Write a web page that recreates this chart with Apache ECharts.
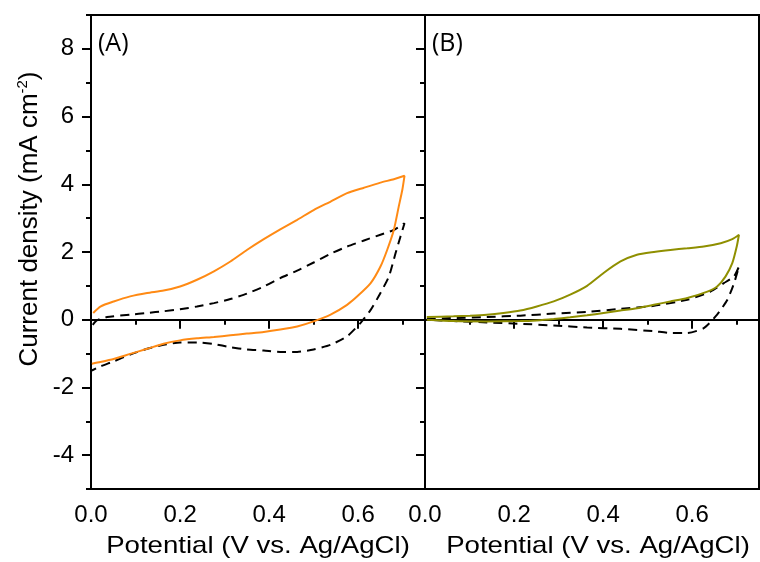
<!DOCTYPE html>
<html>
<head>
<meta charset="utf-8">
<title>CV curves</title>
<script src="https://cdn.jsdelivr.net/npm/echarts@6.0.0/dist/echarts.min.js"></script>
<style>
body { margin: 0; background: #fff; }
#main { width: 760px; height: 562px; }
</style>
</head>
<body>
<div id="main"></div>
<script type="text/javascript">
	// (A) orange curve, forward scan then reverse scan
	var aOrangeV = [0.005, 0.021, 0.051, 0.088, 0.126, 0.163, 0.2, 0.238, 0.276, 0.313, 0.35, 0.388, 0.425, 0.463, 0.5, 0.538, 0.575, 0.613, 0.65, 0.68, 0.704,
		0.699, 0.691, 0.68, 0.665, 0.65, 0.628, 0.598, 0.575, 0.538, 0.5, 0.463, 0.425, 0.388, 0.35, 0.313, 0.276, 0.238, 0.2, 0.163, 0.126, 0.088, 0.051, 0.021, 0.002];
	var aOrangeJ = [0.2, 0.39, 0.54, 0.69, 0.79, 0.86, 0.98, 1.18, 1.43, 1.72, 2.06, 2.38, 2.67, 2.95, 3.24, 3.49, 3.74, 3.90, 4.05, 4.15, 4.25,
		3.83, 3.34, 2.65, 2.06, 1.57, 1.08, 0.69, 0.44, 0.15, -0.05, -0.2, -0.29, -0.36, -0.41, -0.46, -0.51, -0.55, -0.61, -0.71, -0.86, -1.01, -1.16, -1.25, -1.30];

	// (A) dashed reference curve
	var aDashV = [0.004, 0.013, 0.036, 0.088, 0.126, 0.163, 0.2, 0.238, 0.276, 0.313, 0.35, 0.388, 0.425, 0.463, 0.5, 0.538, 0.575, 0.613, 0.65, 0.68, 0.704,
		0.695, 0.684, 0.669, 0.65, 0.628, 0.605, 0.575, 0.538, 0.5, 0.463, 0.425, 0.388, 0.35, 0.313, 0.276, 0.238, 0.2, 0.163, 0.126, 0.088, 0.051, 0.021, 0.002];
	var aDashJ = [-0.15, -0.02, 0.08, 0.15, 0.2, 0.25, 0.31, 0.39, 0.49, 0.61, 0.77, 0.98, 1.23, 1.45, 1.69, 1.95, 2.16, 2.34, 2.51, 2.65, 2.85,
		2.46, 1.97, 1.28, 0.79, 0.29, -0.1, -0.49, -0.74, -0.88, -0.95, -0.95, -0.91, -0.88, -0.81, -0.72, -0.67, -0.67, -0.74, -0.86, -1.03, -1.23, -1.38, -1.50];

	// (B) olive curve
	var bOliveV = [0.004, 0.064, 0.101, 0.139, 0.176, 0.214, 0.251, 0.289, 0.326, 0.364, 0.401, 0.439, 0.476, 0.514, 0.551, 0.589, 0.626, 0.664, 0.69, 0.705,
		0.7, 0.69, 0.675, 0.656, 0.634, 0.589, 0.551, 0.514, 0.476, 0.439, 0.401, 0.364, 0.326, 0.289, 0.251, 0.214, 0.139, 0.064, 0.004];
	var bOliveJ = [0.08, 0.1, 0.12, 0.15, 0.2, 0.27, 0.39, 0.54, 0.74, 1.0, 1.38, 1.72, 1.92, 2.0, 2.06, 2.11, 2.16, 2.26, 2.38, 2.51,
		2.16, 1.67, 1.28, 0.98, 0.83, 0.64, 0.54, 0.44, 0.34, 0.27, 0.2, 0.13, 0.07, 0.02, -0.02, -0.04, -0.05, -0.04, 0.0];

	// (B) dashed reference curve
	var bDashV = [0.004, 0.064, 0.139, 0.214, 0.289, 0.364, 0.439, 0.514, 0.589, 0.641, 0.671, 0.694, 0.705,
		0.694, 0.679, 0.656, 0.626, 0.589, 0.551, 0.514, 0.439, 0.364, 0.289, 0.214, 0.139, 0.064, 0.004];
	var bDashJ = [0.02, 0.05, 0.08, 0.12, 0.18, 0.23, 0.32, 0.41, 0.59, 0.83, 1.08, 1.28, 1.57,
		1.08, 0.59, 0.15, -0.25, -0.39, -0.39, -0.34, -0.27, -0.23, -0.17, -0.12, -0.08, -0.04, 0.0];

	// tick positions
	var xMajor = [0, 0.2, 0.4, 0.6];
	var xMinor = [0.1, 0.3, 0.5, 0.7];
	var yMajor = [-4, -2, 0, 2, 4, 6, 8];
	var yMinor = [-5, -3, -1, 1, 3, 5, 7, 9];

	var FONT = '"Liberation Sans", Arial, sans-serif';

	function pairs(v, j) {
		var out = [];
		for (var i = 0; i < v.length; i++) {
			out.push([v[i], j[i]]);
		}
		return out;
	}

	function xAx(grid, ticks, len, labels) {
		return {
			type : 'value', gridIndex : grid, position : 'bottom', min : 0, max : 0.75,
			axisLine : { show : labels, lineStyle : { color : '#000', width : 2 } },
			axisTick : { show : true, length : len, customValues : ticks, lineStyle : { color : '#000', width : 2 } },
			axisLabel : labels ? {
				show : true, customValues : ticks, margin : 14, color : '#000',
				fontSize : 24, fontFamily : FONT,
				formatter : function(v) { return v.toFixed(1); }
			} : { show : false },
			splitLine : { show : false }
		};
	}

	function yAx(grid, ticks, len, labels) {
		return {
			type : 'value', gridIndex : grid, position : 'left', min : -5, max : 9,
			axisLine : { show : len > 6, lineStyle : { color : '#000', width : 2 } },
			axisTick : { show : true, length : len, customValues : ticks, lineStyle : { color : '#000', width : 2 } },
			axisLabel : labels ? {
				show : true, customValues : ticks, margin : 17, color : '#000',
				fontSize : 24, fontFamily : FONT
			} : { show : false },
			splitLine : { show : false }
		};
	}

	function curve(name, data, xi, yi, color, dashed) {
		return {
			name : name, type : 'line', data : data,
			xAxisIndex : xi, yAxisIndex : yi,
			showSymbol : false, smooth : 0.2,
			lineStyle : { color : color, width : 2, type : dashed ? [9, 6] : 'solid' }
		};
	}

	var myChart = echarts.init(document.getElementById('main'), null, { renderer : 'canvas' });

	var option = {
		animation : false,
		backgroundColor : '#fff',
		grid : [
			{ left : 91, top : 15, width : 334, height : 474, show : true, borderColor : '#000', borderWidth : 2 },
			{ left : 425, top : 15, width : 334, height : 474, show : true, borderColor : '#000', borderWidth : 2 }
		],
		xAxis : [
			xAx(0, xMajor, 9, true),
			xAx(0, xMinor, 5, false),
			xAx(1, xMajor, 9, true),
			xAx(1, xMinor, 5, false)
		],
		yAxis : [
			yAx(0, yMajor, 9, true),
			yAx(0, yMinor, 5, false),
			yAx(1, yMajor, 9, false),
			yAx(1, yMinor, 5, false)
		],
		series : [
			curve('A blank', pairs(aDashV, aDashJ), 0, 0, '#000', true),
			curve('A sample', pairs(aOrangeV, aOrangeJ), 0, 0, '#ff8a14', false),
			curve('B blank', pairs(bDashV, bDashJ), 2, 2, '#000', true),
			curve('B sample', pairs(bOliveV, bOliveJ), 2, 2, '#8f8f00', false)
		],
		graphic : [
			{ type : 'text', x : 98, y : 44, style : { text : '(A)', font : '25px "Open Sans", sans-serif', fill : '#000', verticalAlign : 'middle' } },
			{ type : 'text', x : 432, y : 44, style : { text : '(B)', font : '25px "Open Sans", sans-serif', fill : '#000', verticalAlign : 'middle' } },
			{ type : 'text', x : 258, y : 546, scaleX : 1.15, style : { text : 'Potential (V vs. Ag/AgCl)', font : '24px ' + FONT, fill : '#000', align : 'center', verticalAlign : 'middle' } },
			{ type : 'text', x : 598, y : 546, scaleX : 1.15, style : { text : 'Potential (V vs. Ag/AgCl)', font : '24px ' + FONT, fill : '#000', align : 'center', verticalAlign : 'middle' } },
			{
				type : 'text', x : 30, y : 219, rotation : Math.PI / 2,
				style : {
					text : '{a|Current density (mA cm}{s|-2}{a|)}',
					align : 'center', verticalAlign : 'middle', fill : '#000',
					rich : {
						a : { fontSize : 26, fontFamily : FONT, lineHeight : 30, fill : '#000' },
						s : { fontSize : 15, fontFamily : FONT, verticalAlign : 'top', fill : '#000' }
					}
				}
			}
		]
	};

	myChart.setOption(option);
</script>
</body>
</html>
